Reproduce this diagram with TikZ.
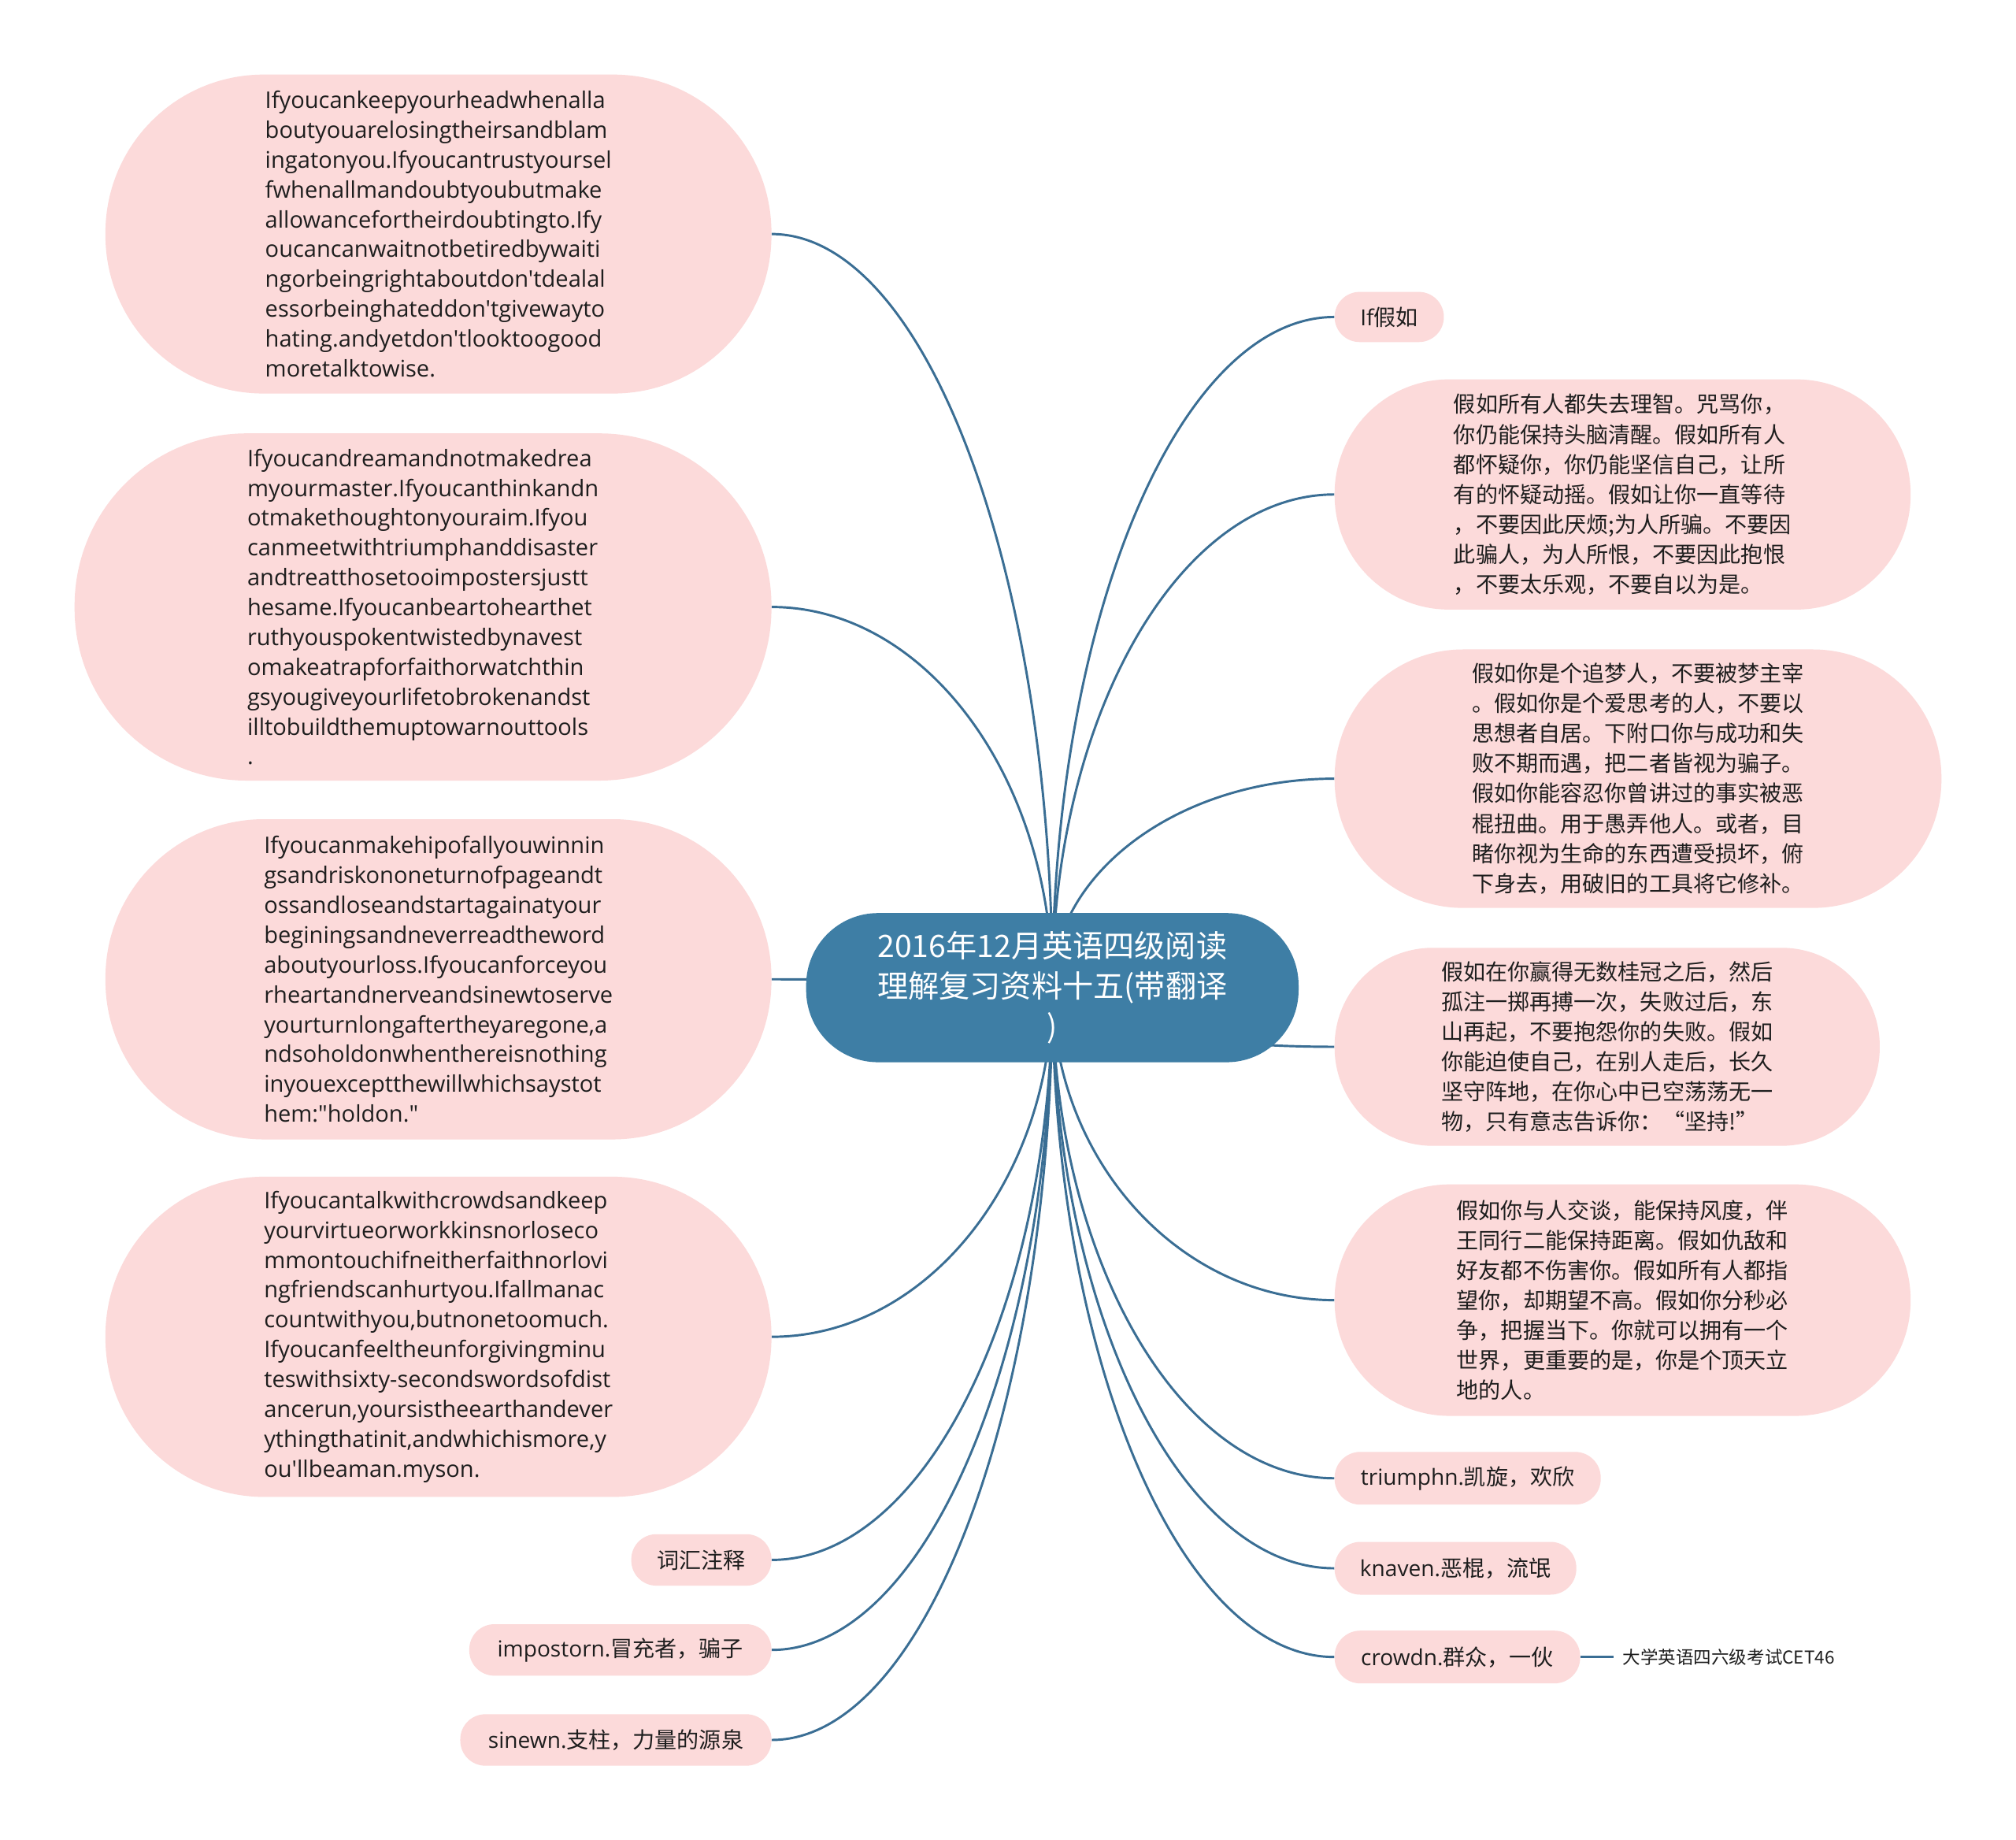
\documentclass[tikz,border=0pt]{standalone}
\usepackage{fontspec}
\setmainfont{Open Sans}
\newfontfamily\latf{Open Sans}
\newfontfamily\cjkf{Noto Sans CJK SC}
\usetikzlibrary{calc}
\definecolor{pinkc}{RGB}{252,218,218}
\definecolor{bluec}{RGB}{62,126,165}
\definecolor{linec}{RGB}{58,110,148}
\definecolor{textc}{RGB}{30,30,30}
\pgfdeclarelayer{bglayer}
\pgfdeclarelayer{linelayer}
\pgfsetlayers{bglayer,linelayer,main}
\newcommand{\mmconn}[2]{\draw[conn] let \p1=(#1), \p2=(#2) in (#1) .. controls (\x1,{\y1+0.55*((\y2)-(\y1))}) and ({\x2+0.55*((\x1)-(\x2))},\y2) .. (#2);}
\tikzset{
  bub/.style={fill=pinkc, text=textc, inner sep=0pt, align=left, font=\latf\fontsize{17.8}{23.2}\selectfont},
  cbub/.style={bub, font=\cjkf\fontsize{17.2}{23.3}\selectfont},
  sbub/.style={fill=pinkc, text=textc, inner sep=0pt, rounded corners=19.5pt, minimum height=40pt, font=\latf\fontsize{17.2}{20}\selectfont},
  mainnode/.style={fill=bluec, text=white, inner sep=0pt, align=center, rounded corners=56pt, font=\cjkf\fontsize{24}{31}\selectfont},
  conn/.style={draw=linec, line width=1.8pt},
}
\begin{document}
\begin{tikzpicture}[x=1pt,y=-1pt]
\begin{pgfonlayer}{bglayer}
\fill[white] (0,0) rectangle (1568,1430.8);
\end{pgfonlayer}
\useasboundingbox (0,0) rectangle (1568,1430.8);

\node[mainnode, minimum width=383pt, minimum height=116pt] (c) at (818.5,768) {2016年12月英语四级阅读\\理解复习资料十五(带翻译\\)};

% left bubbles
\node[bub, rounded corners=123pt, minimum width=518pt, minimum height=248pt] (l1) at (341,182) {Ifyoucankeepyourheadwhenalla\\
boutyouarelosingtheirsandblam\\
ingatonyou.Ifyoucantrustyoursel\\
fwhenallmandoubtyoubutmake\\
allowancefortheirdoubtingto.Ify\\
oucancanwaitnotbetiredbywaiti\\
ngorbeingrightaboutdon'tdealal\\
essorbeinghateddon'tgivewayto\\
hating.andyetdon'tlooktoogood\\
moretalktowise.};

\node[bub, rounded corners=134pt, minimum width=542pt, minimum height=270pt] (l2) at (329,472) {Ifyoucandreamandnotmakedrea\\
myourmaster.Ifyoucanthinkandn\\
otmakethoughtonyouraim.Ifyou\\
canmeetwithtriumphanddisaster\\
andtreatthosetooimpostersjustt\\
hesame.Ifyoucanbeartohearthet\\
ruthyouspokentwistedbynavest\\
omakeatrapforfaithorwatchthin\\
gsyougiveyourlifetobrokenandst\\
illtobuildthemuptowarnouttools\\
.};

\node[bub, rounded corners=123.5pt, minimum width=518pt, minimum height=249pt] (l3) at (341,761.5) {Ifyoucanmakehipofallyouwinnin\\
gsandriskononeturnofpageandt\\
ossandloseandstartagainatyour\\
beginingsandneverreadtheword\\
aboutyourloss.Ifyoucanforceyou\\
rheartandnerveandsinewtoserve\\
yourturnlongaftertheyaregone,a\\
ndsoholdonwhenthereisnothing\\
inyouexceptthewillwhichsaystot\\
hem:"holdon."};

\node[bub, rounded corners=123.5pt, minimum width=518pt, minimum height=249pt] (l4) at (341,1039.5) {Ifyoucantalkwithcrowdsandkeep\\
yourvirtueorworkkinsnorloseco\\
mmontouchifneitherfaithnorlovi\\
ngfriendscanhurtyou.Ifallmanac\\
countwithyou,butnonetoomuch.\\
Ifyoucanfeeltheunforgivingminu\\
teswithsixty-secondswordsofdist\\
ancerun,yoursistheearthandever\\
ythingthatinit,andwhichismore,y\\
ou'llbeaman.myson.};

\node[sbub, minimum width=109pt] (voc) at (545.5,1213) {\cjkf 词汇注释};
\node[sbub, minimum width=235pt] (imp) at (482.5,1283) {impostorn.\cjkf 冒充者，骗子};
\node[sbub, minimum width=242pt] (sin) at (479,1353) {sinewn.\cjkf 支柱，力量的源泉};

% right bubbles
\node[sbub, minimum width=85pt, minimum height=39pt] (ifj) at (1080.5,246.5) {If\cjkf 假如};

\node[cbub, rounded corners=89pt, minimum width=448pt, minimum height=179pt] (r1) at (1262,384.5) {假如所有人都失去理智。咒骂你，\\
你仍能保持头脑清醒。假如所有人\\
都怀疑你，你仍能坚信自己，让所\\
有的怀疑动摇。假如让你一直等待\\
，不要因此厌烦;为人所骗。不要因\\
此骗人，为人所恨，不要因此抱恨\\
，不要太乐观，不要自以为是。};

\node[cbub, rounded corners=100pt, minimum width=472pt, minimum height=201pt] (r2) at (1274,605.5) {假如你是个追梦人，不要被梦主宰\\
。假如你是个爱思考的人，不要以\\
思想者自居。下附口你与成功和失\\
败不期而遇，把二者皆视为骗子。\\
假如你能容忍你曾讲过的事实被恶\\
棍扭曲。用于愚弄他人。或者，目\\
睹你视为生命的东西遭受损坏，俯\\
下身去，用破旧的工具将它修补。};

\node[cbub, rounded corners=76.5pt, minimum width=424pt, minimum height=154pt] (r3) at (1250,814) {假如在你赢得无数桂冠之后，然后\\
孤注一掷再搏一次，失败过后，东\\
山再起，不要抱怨你的失败。假如\\
你能迫使自己，在别人走后，长久\\
坚守阵地，在你心中已空荡荡无一\\
物，只有意志告诉你：“坚持!”};

\node[cbub, rounded corners=89.5pt, minimum width=448pt, minimum height=180pt] (r4) at (1262,1011) {假如你与人交谈，能保持风度，伴\\
王同行二能保持距离。假如仇敌和\\
好友都不伤害你。假如所有人都指\\
望你，却期望不高。假如你分秒必\\
争，把握当下。你就可以拥有一个\\
世界，更重要的是，你是个顶天立\\
地的人。};

\node[sbub, minimum width=207pt, minimum height=41pt, rounded corners=20pt] (tri) at (1141.5,1149.5) {triumphn.\cjkf 凯旋，欢欣};
\node[sbub, minimum width=188pt, minimum height=41pt, rounded corners=20pt] (kna) at (1132,1219.5) {knaven.\cjkf 恶棍，流氓};
\node[sbub, minimum width=191pt, minimum height=41pt, rounded corners=20pt] (cro) at (1133.5,1288.5) {crowdn.\cjkf 群众，一伙};

\node[text=textc, anchor=west, inner xsep=7pt, inner ysep=2pt, font=\cjkf\fontsize{13.8}{16}\selectfont] (lab) at (1255,1288.5) {大学英语四六级考试CET46};

\begin{pgfonlayer}{linelayer}
\mmconn{c.center}{l1.east}
\mmconn{c.center}{l2.east}
\mmconn{c.center}{l3.east}
\mmconn{c.center}{l4.east}
\mmconn{c.center}{voc.east}
\mmconn{c.center}{imp.east}
\mmconn{c.center}{sin.east}
\mmconn{c.center}{ifj.west}
\mmconn{c.center}{r1.west}
\mmconn{c.center}{r2.west}
\mmconn{c.center}{r3.west}
\mmconn{c.center}{r4.west}
\mmconn{c.center}{tri.west}
\mmconn{c.center}{kna.west}
\mmconn{c.center}{cro.west}
\draw[conn] (cro.east) -- (lab.west);
\end{pgfonlayer}
\end{tikzpicture}
\end{document}
